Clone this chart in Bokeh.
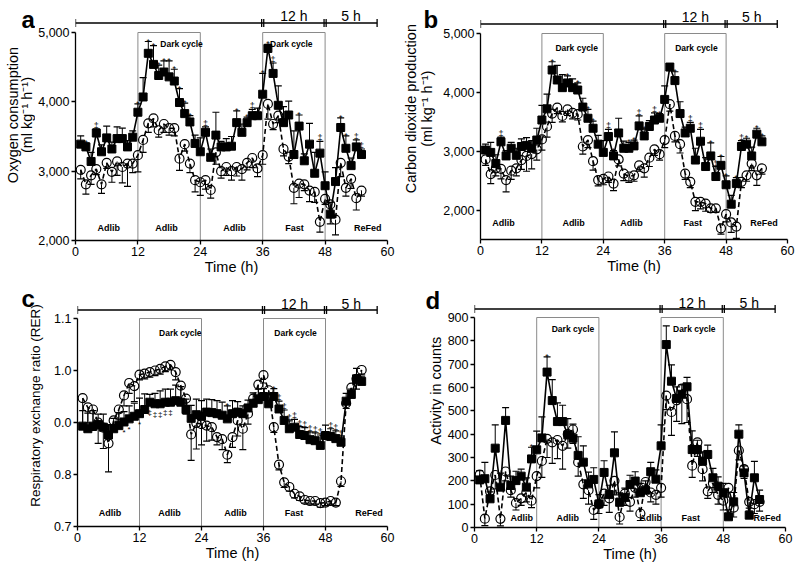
import math
from bokeh.plotting import figure
from bokeh.layouts import column, row
from bokeh.models import FixedTicker, NumeralTickFormatter, Range1d
from bokeh.core.properties import value
from bokeh.embed import file_html
from bokeh.resources import INLINE

FONT = "Liberation Sans"

hours = list(range(1, 56))
time_ticks = [0, 12, 24, 36, 48, 60]
phase_labels = ["Adlib", "Adlib", "Adlib", "Fast", "ReFed"]
dark_starts = [12, 36]
dark_ends = [24, 48]
bracket_labels = ["12 h", "5 h"]
bracket_label_hours = [42, 53]
bracket_tick_hours = [0, 35.8, 36.2, 47.8, 48.2, 58]

# ---------------- panel a : oxygen consumption ----------------
a_sq = [3390, 3350, 3140, 3550, 3280, 3480, 3320, 3470, 3470, 3350, 3490, 3850, 4070, 4700, 4540,
        4380, 4430, 4360, 4300, 3990, 3830, 3710, 3400, 3280, 3560, 3200, 3520, 3350, 3350, 3360,
        3700, 3560, 3700, 3800, 3800, 4110, 4770, 4410, 3950, 3700, 3810, 3240, 3650, 3150, 3390,
        2970, 3260, 2790, 2380, 2850, 3630, 3330, 3080, 3350, 3240]
a_sq_err = [120, 60, 130, 60, 100, 170, 100, 170, 150, 90, 90, 120, 280, 170, 270,
            150, 160, 230, 170, 200, 150, 90, 120, 200, 80, 120, 330, 80, 120, 140,
            170, 120, 80, 90, 110, 300, 60, 150, 280, 230, 200, 340, 160, 100, 300,
            300, 170, 200, 170, 200, 140, 180, 110, 100, 80]
a_ci = [3020, 2810, 2940, 3030, 2810, 3120, 2990, 3140, 3060, 3110, 3110, 3230, 3450, 3690, 3760,
        3590, 3680, 3620, 3620, 3180, 3390, 3110, 2870, 2840, 2870, 2730, 3270, 3000, 3060, 3000,
        3060, 3030, 3120, 3190, 3040, 3230, 3970, 3680, 3800, 3320, 3210, 2760, 2820, 2810, 2720,
        2700, 2270, 2600, 2520, 2300, 3120, 2760, 2890, 2610, 2720]
a_ci_err = [130, 140, 130, 80, 130, 80, 150, 200, 230, 330, 130, 240, 180, 130, 120,
            100, 120, 100, 110, 170, 100, 130, 170, 190, 130, 120, 170, 100, 120, 130,
            130, 160, 100, 140, 120, 130, 220, 80, 100, 100, 100, 230, 200, 90, 160,
            150, 150, 80, 280, 220, 200, 120, 140, 170, 80]
a_star_x = [2, 4, 12, 14, 15, 16, 17, 18, 19, 20, 21, 22, 25, 31, 33, 34, 36, 37, 38, 43, 47, 51, 52, 54, 55]
a_star_s = ["*", "‡", "*", "*", "*", "*", "*", "*", "*", "*", "*", "*", "‡", "*", "*", "‡", "*", "*",
            "‡", "*", "‡", "*", "*", "‡", "‡"]

# ---------------- panel b : carbon dioxide production ----------------
b_sq = [3020, 2980, 2790, 3160, 2920, 3050, 2930, 3080, 3100, 3050, 3190, 3530, 3720, 4380, 4210,
        4080, 4160, 4080, 4040, 3750, 3560, 3390, 3120, 2980, 3250, 2920, 3310, 3050, 3050, 3090,
        3430, 3260, 3420, 3530, 3560, 3880, 4430, 4200, 3640, 3310, 3390, 2850, 3170, 2740, 2920,
        2570, 2760, 2430, 2100, 2450, 3080, 3120, 2920, 3290, 3160]
b_sq_err = [100, 170, 150, 80, 90, 100, 120, 130, 130, 130, 200, 250, 250, 140, 250,
            220, 120, 150, 120, 150, 150, 120, 150, 200, 120, 90, 250, 120, 100, 100,
            170, 120, 100, 120, 80, 230, 60, 150, 200, 100, 100, 200, 200, 150, 220,
            170, 150, 150, 150, 100, 100, 100, 150, 100, 100]
b_ci = [2860, 2610, 2710, 2700, 2510, 2670, 2710, 2850, 2920, 2950, 3030, 3200, 3420, 3640, 3740,
        3600, 3710, 3650, 3630, 3080, 3190, 2830, 2510, 2530, 2570, 2450, 2860, 2620, 2570, 2590,
        2760, 2710, 2890, 3030, 2950, 3190, 3800, 3260, 3120, 2620, 2480, 2140, 2140, 2110, 2030,
        2030, 1690, 1930, 1790, 1720, 2480, 2590, 2790, 2590, 2710]
b_ci_err = [100, 160, 130, 170, 200, 150, 130, 160, 260, 250, 180, 180, 180, 150, 100,
            100, 100, 100, 100, 130, 130, 150, 100, 100, 100, 120, 110, 120, 100, 100,
            100, 150, 150, 100, 100, 130, 120, 100, 150, 100, 100, 150, 120, 130, 70,
            70, 100, 130, 170, 200, 100, 100, 120, 170, 100]
b_star_x = [4, 14, 17, 19, 21, 22, 25, 26, 29, 30, 31, 32, 34, 35, 38, 41, 43, 45, 46, 47, 48, 50, 51, 52, 54, 55]
b_star_s = ["‡", "*", "*", "*", "*", "*", "‡", "*", "*", "*", "‡", "*", "‡", "*", "*", "‡", "‡", "*",
            "‡", "*", "*", "*", "‡", "*", "*", "*"]

# ---------------- panel c : respiratory exchange ratio ----------------
c_sq = [0.893, 0.888, 0.893, 0.896, 0.891, 0.876, 0.888, 0.894, 0.901, 0.907, 0.912, 0.917, 0.925,
        0.939, 0.936, 0.936, 0.939, 0.939, 0.942, 0.939, 0.925, 0.908, 0.915, 0.912, 0.920, 0.919,
        0.917, 0.914, 0.907, 0.917, 0.920, 0.917, 0.928, 0.937, 0.944, 0.950, 0.936, 0.950, 0.926,
        0.904, 0.888, 0.891, 0.877, 0.875, 0.867, 0.865, 0.856, 0.875, 0.873, 0.869, 0.862, 0.941,
        0.954, 0.984, 0.979]
c_sq_err = [0.03, 0.03, 0.03, 0.02, 0.025, 0.02, 0.02, 0.025, 0.02, 0.025, 0.025, 0.03, 0.03,
            0.015, 0.02, 0.025, 0.025, 0.025, 0.03, 0.03, 0.02, 0.025, 0.03, 0.03, 0.025, 0.025,
            0.025, 0.025, 0.025, 0.025, 0.02, 0.015, 0.015, 0.02, 0.02, 0.015, 0.02, 0.015, 0.015,
            0.02, 0.015, 0.015, 0.015, 0.015, 0.015, 0.015, 0.02, 0.02, 0.015, 0.015, 0.01, 0.015,
            0.01, 0.02, 0.01]
c_ci = [0.947, 0.929, 0.925, 0.900, 0.890, 0.860, 0.904, 0.925, 0.952, 0.976, 0.970, 0.992, 0.994,
        0.997, 1.000, 1.003, 1.008, 1.011, 0.997, 0.971, 0.946, 0.877, 0.899, 0.897, 0.894, 0.891,
        0.872, 0.868, 0.838, 0.872, 0.904, 0.888, 0.917, 0.946, 0.973, 0.991, 0.962, 0.891, 0.819,
        0.785, 0.776, 0.763, 0.758, 0.751, 0.749, 0.749, 0.745, 0.746, 0.749, 0.746, 0.787, 0.937,
        0.967, 0.984, 1.001]
c_ci_err = [0.05, 0.03, 0.04, 0.04, 0.04, 0.055, 0.02, 0.02, 0.02, 0.02, 0.03, 0.01, 0.01,
            0.01, 0.01, 0.01, 0.01, 0.01, 0.015, 0.03, 0.03, 0.05, 0.05, 0.04, 0.03, 0.025,
            0.015, 0.02, 0.015, 0.02, 0.03, 0.04, 0.02, 0.015, 0.02, 0.015, 0.015, 0.01, 0.01,
            0.01, 0.008, 0.008, 0.008, 0.006, 0.006, 0.006, 0.008, 0.006, 0.006, 0.006, 0.01, 0.01,
            0.008, 0.02, 0.008]
c_star_x = [29, 38, 39, 40, 41, 42, 43, 44, 45, 46, 47, 49, 50, 51]
c_star_s = ["*", "*", "‡", "‡", "‡", "‡", "‡", "‡", "‡", "‡", "‡", "‡", "‡", "‡"]
c_below_x = [9, 10, 12, 14, 15, 16, 17, 18]
c_below_s = ["*", "*", "*", "‡", "‡", "‡", "‡", "‡"]

# ---------------- panel d : activity ----------------
d_sq = [204, 209, 123, 340, 173, 459, 180, 201, 220, 173, 294, 333, 384, 666, 544,
        454, 454, 397, 383, 309, 280, 187, 206, 101, 236, 141, 320, 108, 129, 184,
        199, 149, 160, 239, 207, 350, 784, 627, 553, 571, 603, 334, 334, 284, 313,
        213, 177, 149, 46, 110, 400, 234, 53, 213, 120]
d_sq_err = [40, 70, 30, 100, 60, 55, 40, 40, 30, 40, 50, 80, 90, 65, 90,
            80, 70, 70, 60, 80, 70, 50, 50, 40, 50, 40, 90, 40, 40, 40,
            40, 40, 40, 40, 40, 90, 80, 70, 50, 40, 40, 80, 40, 40, 40,
            40, 40, 40, 30, 40, 40, 30, 30, 70, 40]
d_ci = [227, 38, 155, 225, 37, 240, 160, 105, 125, 150, 115, 220, 285, 380, 365,
        375, 350, 400, 420, 280, 185, 160, 75, 100, 145, 125, 200, 45, 145, 110,
        170, 60, 195, 150, 140, 170, 565, 495, 545, 595, 550, 265, 365, 250, 155,
        190, 140, 115, 170, 85, 330, 250, 110, 100, 110]
d_ci_err = [30, 30, 30, 60, 30, 40, 30, 30, 30, 40, 30, 50, 70, 80, 90,
            80, 100, 60, 60, 60, 60, 60, 40, 40, 50, 60, 60, 30, 50, 40,
            40, 30, 40, 40, 40, 40, 60, 100, 90, 150, 100, 50, 60, 50, 30,
            40, 40, 40, 40, 40, 40, 40, 40, 40, 40]
d_star_x = [11, 14]
d_star_s = ["*", "*"]

# ---------------- layout / style per panel (page pixel positions) ----------------
cfg_a = dict(letter="a", left=0, top=0, W=400, H=285, side_w=35,
             fx0=73, fx1=387, yv_hi=5000, yp_hi=32, yv_lo=2000, yp_lo=240,
             timeline_py=22.5, bracket_py=15.5, letter_px=21, letter_py=22.5,
             ylab=["Oxygen consumption", "(ml kg\u207b\u00b9 h\u207b\u00b9)"], ylab_px=[12, 26], ylab_py=136,
             ylab_size="14.5px", dark_lab_hours=[20.4, 41.5], dark_lab_py=43,
             phase_hours=[6.4, 17.5, 30.6, 42.1, 56.2], phase_py=227,
             yticks=[2000, 3000, 4000, 5000], fmt="comma")
cfg_b = dict(letter="b", left=400, top=0, W=398, H=285, side_w=40,
             fx0=478, fx1=787, yv_hi=5000, yp_hi=33, yv_lo=1500, yp_lo=239,
             timeline_py=23.5, bracket_py=16, letter_px=423, letter_py=22.5,
             ylab=["Carbon dioxide production", "(ml kg\u207b\u00b9 h\u207b\u00b9)"], ylab_px=[410, 426],
             ylab_py=129, ylab_size="14.5px", dark_lab_hours=[18.8, 42.2], dark_lab_py=47,
             phase_hours=[4.5, 18.2, 29.5, 41.5, 55.4], phase_py=222,
             yticks=[2000, 3000, 4000, 5000], fmt="comma")
cfg_c = dict(letter="c", left=0, top=285, W=400, H=283, side_w=44,
             fx0=77, fx1=387, yv_hi=1.1, yp_hi=318, yv_lo=0.7, yp_lo=526,
             timeline_py=309.5, bracket_py=303.5, letter_px=21, letter_py=300,
             ylab=["Respiratory exchange ratio (RER)"], ylab_px=[35], ylab_py=426,
             ylab_size="13.5px", dark_lab_hours=[19.9, 42.2], dark_lab_py=332,
             phase_hours=[6.3, 17.8, 30.6, 41.9, 56.4], phase_py=512,
             yticks=[0.7, 0.8, 0.9, 1.0, 1.1], fmt="rer")
cfg_d = dict(letter="d", left=400, top=285, W=398, H=283, side_w=44,
             fx0=473, fx1=785, yv_hi=900, yp_hi=317, yv_lo=0, yp_lo=527,
             timeline_py=308.5, bracket_py=302.5, letter_px=425, letter_py=303,
             ylab=["Activity in counts"], ylab_px=[435], ylab_py=408,
             ylab_size="14.5px", dark_lab_hours=[19.0, 42.4], dark_lab_py=328,
             phase_hours=[9.1, 18.0, 34.0, 41.7, 56.5], phase_py=517,
             yticks=[0, 100, 200, 300, 400, 500, 600, 700, 800, 900], fmt="plain")

rer_labels = {0.7: "0.7", 0.8: "0.8", 0.9: "0.0", 1.0: "1.0", 1.1: "1.1"}


def bare(fig):
    fig.outline_line_color = None
    fig.grid.visible = False
    fig.background_fill_color = "white"
    fig.border_fill_color = "white"
    return fig


def make_side(g):
    # left column: panel letter and rotated y-axis title (pixel coordinates, y downwards)
    w, h = g["side_w"], g["H"]
    s = bare(figure(width=w, height=h, x_range=Range1d(0, w), y_range=Range1d(h, 0),
                    output_backend="svg", toolbar_location=None, x_axis_location=None,
                    y_axis_location=None, min_border_left=0, min_border_right=0,
                    min_border_top=0, min_border_bottom=0))
    s.text(x=[g["letter_px"] - g["left"]], y=[g["letter_py"] - g["top"]], text=[g["letter"]],
           text_font=value(FONT), text_font_size=value("24px"), text_font_style=value("bold"),
           text_align=value("left"), text_baseline=value("alphabetic"), text_color="black")
    n = len(g["ylab"])
    s.text(x=[px - g["left"] for px in g["ylab_px"]], y=[g["ylab_py"] - g["top"]] * n, text=g["ylab"],
           angle=math.pi / 2, text_font=value(FONT), text_font_size=value(g["ylab_size"]),
           text_align=value("center"), text_baseline=value("middle"), text_color="black")
    return s


def make_main(g, sq, sq_err, ci, ci_err, star_x, star_s, below_x=None, below_s=None):
    left = g["left"] + g["side_w"]
    top = g["top"]
    W = g["W"] - g["side_w"]
    H = g["H"]
    ppy = (g["yp_lo"] - g["yp_hi"]) / (g["yv_hi"] - g["yv_lo"])
    upp = 1.0 / ppy

    def Y(py):
        return g["yv_lo"] + (g["yp_lo"] - py) / ppy

    p = bare(figure(width=W, height=H, x_range=(0, 60), y_range=(g["yv_lo"], Y(top)),
                    output_backend="svg", toolbar_location=None,
                    min_border_left=g["fx0"] - left, min_border_right=left + W - g["fx1"],
                    min_border_top=0, min_border_bottom=top + H - g["yp_lo"]))

    for ax in (p.xaxis[0], p.yaxis[0]):
        ax.axis_line_width = 1.3
        ax.axis_line_color = "black"
        ax.major_tick_line_width = 1.3
        ax.major_tick_line_color = "black"
        ax.major_tick_in = 0
        ax.major_tick_out = 4
        ax.minor_tick_in = 0
        ax.minor_tick_out = 0
        ax.major_label_text_font = FONT
        ax.major_label_text_font_size = "12.5px"
        ax.major_label_text_color = "black"
        ax.major_label_standoff = 2
    p.xaxis.ticker = FixedTicker(ticks=time_ticks, minor_ticks=[])
    p.xaxis.axis_label = "Time (h)"
    p.xaxis.axis_label_standoff = 0
    p.xaxis.axis_label_text_font = FONT
    p.xaxis.axis_label_text_font_size = "14.5px"
    p.xaxis.axis_label_text_font_style = "normal"
    p.xaxis.axis_label_text_color = "black"
    p.yaxis.ticker = FixedTicker(ticks=g["yticks"], minor_ticks=[])
    p.yaxis.bounds = (g["yv_lo"], g["yv_hi"])
    if g["fmt"] == "comma":
        p.yaxis.formatter = NumeralTickFormatter(format="0,0")
    elif g["fmt"] == "rer":
        p.yaxis.major_label_overrides = rer_labels

    # dark cycle boxes
    p.quad(left=dark_starts, right=dark_ends, bottom=[g["yv_lo"]] * 2, top=[g["yv_hi"]] * 2,
           fill_color=None, line_color="#8a8a8a", line_width=1)

    # top timeline bracket with its labels
    ty = Y(g["timeline_py"])
    n = len(bracket_tick_hours)
    p.segment(x0=[0], y0=[ty], x1=[58], y1=[ty], line_color="black", line_width=1.4)
    p.segment(x0=bracket_tick_hours, y0=[ty - 4 * upp] * n, x1=bracket_tick_hours,
              y1=[ty + 4 * upp] * n, line_color="black", line_width=1.3)
    p.text(x=bracket_label_hours, y=[Y(g["bracket_py"])] * 2, text=bracket_labels,
           text_font=value(FONT), text_font_size=value("14px"), text_align=value("center"),
           text_baseline=value("alphabetic"), text_color="black")

    # circles: error bars downward
    ci_lo = [v - e for v, e in zip(ci, ci_err)]
    p.segment(x0=hours, y0=ci, x1=hours, y1=ci_lo, line_color="black", line_width=1)
    p.scatter(x=hours, y=ci_lo, marker="dash", size=7, line_color="black", line_width=1.2)
    # squares: error bars upward
    sq_hi = [v + e for v, e in zip(sq, sq_err)]
    p.segment(x0=hours, y0=sq, x1=hours, y1=sq_hi, line_color="black", line_width=1)
    p.scatter(x=hours, y=sq_hi, marker="dash", size=7, line_color="black", line_width=1.2)

    p.line(x=hours, y=ci, line_color="black", line_width=1.6, line_dash="5 3")
    p.line(x=hours, y=sq, line_color="black", line_width=1.6)
    p.scatter(x=hours, y=ci, marker="circle", size=9, fill_color=None, line_color="black", line_width=1.2)
    p.scatter(x=hours, y=sq, marker="square", size=8, fill_color="black", line_color="black")

    # significance marks
    sy = [sq_hi[hx - 1] + (3 if s != "*" else 0) * upp for hx, s in zip(star_x, star_s)]
    p.text(x=star_x, y=sy, text=star_s, text_font=value(FONT), text_font_size=value("9px"),
           text_align=value("center"), text_baseline=value("alphabetic"), text_color="black")
    if below_x:
        by = [sq[hx - 1] - 6 * upp for hx in below_x]
        p.text(x=below_x, y=by, text=below_s, text_font=value(FONT), text_font_size=value("8px"),
               text_align=value("center"), text_baseline=value("top"), text_color="black")

    # region labels
    dy = Y(g["dark_lab_py"])
    p.text(x=g["dark_lab_hours"], y=[dy, dy], text=["Dark cycle", "Dark cycle"],
           text_font=value(FONT), text_font_size=value("8.5px"), text_font_style=value("bold"),
           text_align=value("center"), text_baseline=value("middle"), text_color="black")
    py_ = Y(g["phase_py"])
    p.text(x=g["phase_hours"], y=[py_] * 5, text=phase_labels,
           text_font=value(FONT), text_font_size=value("9px"), text_font_style=value("bold"),
           text_align=value("center"), text_baseline=value("middle"), text_color="black")
    return p


def make_panel(g, *series):
    return row(make_side(g), make_main(g, *series))


panel_a = make_panel(cfg_a, a_sq, a_sq_err, a_ci, a_ci_err, a_star_x, a_star_s)
panel_b = make_panel(cfg_b, b_sq, b_sq_err, b_ci, b_ci_err, b_star_x, b_star_s)
panel_c = make_panel(cfg_c, c_sq, c_sq_err, c_ci, c_ci_err, c_star_x, c_star_s, c_below_x, c_below_s)
panel_d = make_panel(cfg_d, d_sq, d_sq_err, d_ci, d_ci_err, d_star_x, d_star_s)

layout = column(row(panel_a, panel_b), row(panel_c, panel_d))
open("out.html", "w").write(file_html(layout, INLINE))
